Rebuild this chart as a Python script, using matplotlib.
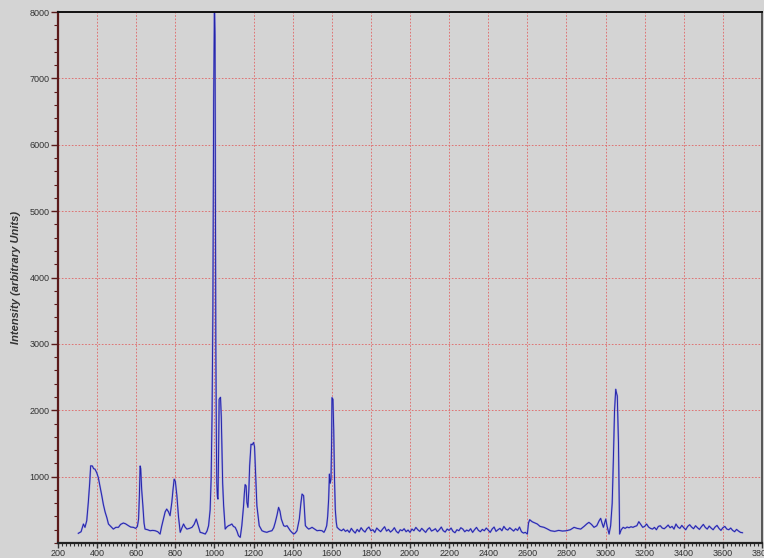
import numpy as np
import matplotlib
matplotlib.use("Agg")
import matplotlib.pyplot as plt
from matplotlib.ticker import MultipleLocator

# ---- data (Raman shift, intensity) ----
peaks_region = [
    (304, 146), (318, 170), (330, 286), (338, 236), (347, 336), (355, 612), (362, 900),
    (367, 1163), (376, 1160), (382, 1120), (389, 1113), (398, 1060), (406, 988), (415, 850),
    (424, 712), (432, 580), (441, 466), (450, 380), (458, 286), (470, 250), (483, 210),
    (496, 236), (509, 236), (520, 280), (534, 301), (545, 290), (560, 261), (572, 240),
    (586, 236), (597, 220), (606, 250), (612, 361), (616, 700), (620, 1160), (623, 1120),
    (628, 800), (634, 562), (640, 300), (645, 210), (658, 200), (671, 185), (684, 190),
    (697, 185), (710, 170), (722, 135), (730, 250), (739, 361), (748, 470), (756, 511),
    (765, 470), (773, 411), (778, 520), (782, 612), (788, 800), (794, 962), (800, 930),
    (808, 712), (816, 400), (825, 161), (834, 230), (842, 286), (850, 240), (859, 210),
    (872, 220), (885, 236), (896, 280), (907, 361), (915, 280), (927, 161), (940, 150),
    (953, 135), (962, 180), (970, 261), (978, 500), (983, 962), (988, 1965), (992, 3500),
    (996, 6670), (1000, 8100), (1003, 7650), (1007, 3000), (1010, 1500), (1012, 912),
    (1015, 700), (1018, 662), (1021, 1300), (1024, 2165), (1031, 2195), (1035, 1900),
    (1038, 1463), (1042, 900), (1047, 562), (1055, 210), (1063, 240), (1072, 261),
    (1080, 270), (1089, 286), (1097, 250), (1106, 236), (1115, 180), (1123, 110),
    (1132, 85), (1140, 261), (1149, 562), (1153, 750), (1157, 880), (1162, 860),
    (1166, 612), (1171, 537), (1176, 800), (1180, 1163), (1187, 1489), (1193, 1480),
    (1200, 1514), (1205, 1450), (1209, 1163), (1217, 562), (1229, 261), (1243, 185),
    (1255, 170), (1268, 161), (1280, 175), (1294, 185), (1303, 230), (1311, 311),
    (1320, 420), (1328, 537), (1335, 480), (1342, 361), (1354, 261), (1362, 250),
    (1371, 261), (1380, 220), (1388, 185), (1396, 160), (1405, 135), (1413, 150),
    (1422, 185), (1434, 361), (1442, 600), (1448, 737), (1456, 712), (1465, 261),
    (1474, 230), (1482, 210), (1490, 220), (1499, 236), (1512, 210), (1525, 185),
    (1537, 190), (1550, 185), (1560, 161), (1567, 200), (1574, 261), (1579, 400),
    (1584, 662), (1588, 1038), (1592, 900), (1596, 962), (1599, 1500), (1601, 2190),
    (1606, 2165), (1610, 1700), (1614, 962), (1618, 500), (1623, 311), (1627, 236),
]

baseline_a_start, baseline_a_step = 1640, 10
baseline_a = [200, 185, 210, 175, 195, 160, 220, 180, 150, 205,
              170, 230, 190, 165, 215, 240, 185, 200, 160, 225,
              195, 170, 210, 245, 180, 205, 165, 190, 230, 175,
              150, 200, 185, 215, 170, 195,
              160, 210, 185, 235, 200, 175, 220, 190, 160, 205,
              230, 180, 195, 215, 170, 200, 240, 185, 165, 210,
              190, 225, 175, 155, 200, 185, 230, 210, 170, 195,
              180, 215, 160, 200, 235, 190, 170, 205, 185, 225,
              195, 160, 210, 240, 175, 200, 220, 185, 250, 210,
              195, 230, 205, 180, 215, 190, 240, 170, 150, 160]

ch_region = [
    (2600, 135), (2606, 300), (2612, 351), (2625, 320), (2640, 300), (2651, 286),
    (2665, 250), (2685, 236), (2700, 215), (2719, 185), (2740, 175), (2760, 190),
    (2780, 180), (2800, 185), (2820, 200), (2839, 236), (2855, 220), (2873, 210),
    (2890, 250), (2905, 290), (2915, 311), (2928, 280), (2941, 236), (2955, 260),
    (2968, 340), (2975, 371), (2982, 300), (2989, 236), (2995, 300), (3001, 361),
    (3008, 250), (3018, 135), (3026, 261), (3034, 600), (3040, 1263), (3046, 2000),
    (3052, 2316), (3056, 2260), (3060, 2215), (3066, 1514), (3072, 135), (3080, 200),
]

baseline_b_start, baseline_b_step = 3090, 10
baseline_b = [236, 220, 240, 230, 245, 236, 250, 260, 321, 280,
              236, 250, 286, 240, 220, 210, 235, 200, 250, 260,
              225, 215, 240, 270, 230, 250, 210, 285, 240, 220,
              265, 230, 200, 250, 275, 240, 215, 260, 230, 205,
              245, 280, 235, 210, 255, 225, 200, 240, 265, 220,
              190, 230, 250, 210, 200, 225, 190, 170, 205, 180,
              160, 155]

x_ticks = [200, 400, 600, 800, 1000, 1200, 1400, 1600, 1800, 2000, 2200, 2400,
           2600, 2800, 3000, 3200, 3400, 3600, 3800]
y_ticks = [1000, 2000, 3000, 4000, 5000, 6000, 7000, 8000]
y_label = "Intensity (arbitrary Units)"

# ---- assemble ----
xa = [p[0] for p in peaks_region]
ya = [p[1] for p in peaks_region]
xb = list(baseline_a_start + baseline_a_step * np.arange(len(baseline_a)))
xc = [p[0] for p in ch_region]
yc = [p[1] for p in ch_region]
xd = list(baseline_b_start + baseline_b_step * np.arange(len(baseline_b)))
x = np.array(xa + xb + xc + xd, dtype=float)
y = np.array(ya + baseline_a + yc + baseline_b, dtype=float)

plt.rcParams['font.family'] = ['Liberation Sans', 'DejaVu Sans']
bg = '#d4d4d4'
fig = plt.figure(figsize=(7.64, 5.58), dpi=100, facecolor=bg)
ax = fig.add_axes([58 / 764, 15 / 558, 704 / 764, 531 / 558])
ax.set_facecolor(bg)

ax.set_xlim(200, 3800)
ax.set_ylim(0, 8000)
ax.set_xticks(x_ticks)
ax.set_yticks(y_ticks)
ax.xaxis.set_minor_locator(MultipleLocator(20))
ax.yaxis.set_minor_locator(MultipleLocator(200))

ax.grid(True, which='major', color='#e06464', linestyle=(0, (2, 2)), linewidth=0.6)
ax.set_axisbelow(True)

ax.plot(x, y, color='#9a9ae0', linewidth=1.3, solid_joinstyle='round')
ax.plot(x, y, color='#2424a8', linewidth=0.7, solid_joinstyle='round')

ax.tick_params(axis='x', which='major', direction='out', length=3.5, width=1.0,
               labelsize=6.5, labelcolor='#333333', color='#333333', pad=0.5)
ax.tick_params(axis='x', which='minor', direction='out', length=2.5, width=0.8,
               color='#333333')
ax.tick_params(axis='y', which='major', direction='out', length=5, width=1.0,
               labelsize=6.5, labelcolor='#333333', color='#5a1a1a', pad=1)
ax.tick_params(axis='y', which='minor', direction='out', length=3, width=0.8,
               color='#5a1a1a')

for side, col, lw in [('left', '#5a1a1a', 1.6), ('bottom', '#222222', 1.6),
                      ('top', '#111111', 1.4), ('right', '#555555', 1.4)]:
    ax.spines[side].set_color(col)
    ax.spines[side].set_linewidth(lw)

ax.set_ylabel(y_label, fontsize=8, fontstyle='italic', fontweight='bold',
              color='#333333', labelpad=6)

fig.savefig('out.png', dpi=100, facecolor=bg)
